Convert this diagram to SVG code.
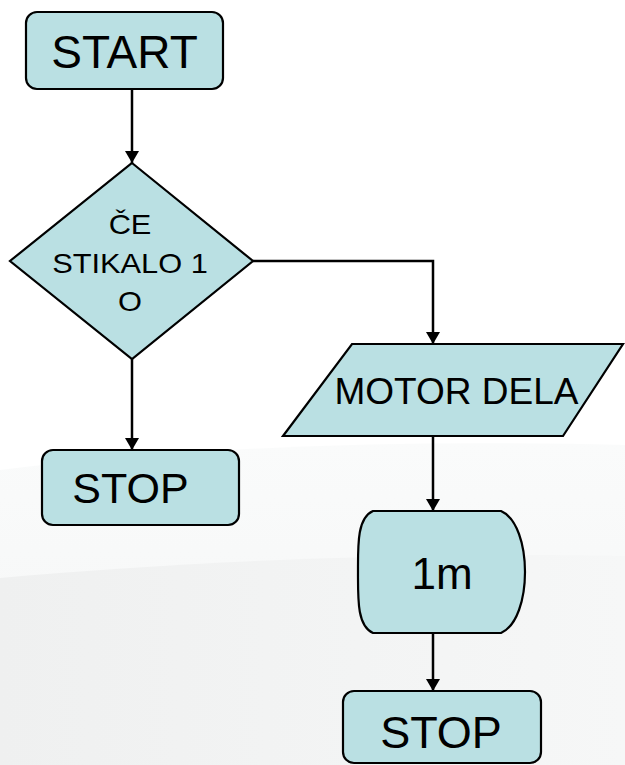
<svg xmlns="http://www.w3.org/2000/svg" width="625" height="765" viewBox="0 0 625 765">
<defs>
<style>
.node{fill:#bae0e3;stroke:#000;stroke-width:2.2}
.lbl{font-family:"Liberation Sans",Arial,sans-serif;fill:#000;text-anchor:middle}
.conn{fill:none;stroke:#000;stroke-width:2.5}
</style>
<marker id="ah" markerWidth="12" markerHeight="14" refX="12" refY="7" orient="auto" markerUnits="userSpaceOnUse">
<path d="M0,0 L12,7 L0,14 Z" fill="#000"/>
</marker>
<linearGradient id="bg1" x1="0" y1="0" x2="0" y2="1">
<stop offset="0" stop-color="#fafbfb"/>
<stop offset="1" stop-color="#f4f5f5"/>
</linearGradient>
<linearGradient id="bg2" x1="0" y1="0" x2="1" y2="0">
<stop offset="0" stop-color="#eff0f0"/>
<stop offset="1" stop-color="#f6f7f7"/>
</linearGradient>
</defs>
<rect x="0" y="0" width="625" height="765" fill="#ffffff"/>
<path d="M0,470 C200,445 420,440 625,445 L625,765 L0,765 Z" fill="url(#bg1)"/>
<path d="M0,578 C200,560 420,552 625,556 L625,765 L0,765 Z" fill="url(#bg2)"/>

<g id="connectors">
<line class="conn" x1="132" y1="89" x2="132" y2="163" marker-end="url(#ah)"/>
<line class="conn" x1="132" y1="359" x2="132" y2="450" marker-end="url(#ah)"/>
<polyline class="conn" points="253,261 433,261 433,344" marker-end="url(#ah)"/>
<line class="conn" x1="433" y1="436" x2="433" y2="511" marker-end="url(#ah)"/>
<line class="conn" x1="433" y1="633" x2="433" y2="691" marker-end="url(#ah)"/>
</g>

<g id="start">
<rect class="node" x="26" y="12" width="197" height="77" rx="11"/>
<text class="lbl" x="124.5" y="68" font-size="46">START</text>
</g>

<g id="decision">
<polygon class="node" points="132,163 253,261 132,359 10,261"/>
<g transform="translate(130,0) scale(1.14,1)">
<text class="lbl" x="0" y="234" font-size="27">ČE</text>
<text class="lbl" x="0" y="273" font-size="27">STIKALO 1</text>
<text class="lbl" x="0" y="311" font-size="27">O</text>
</g>
</g>

<g id="stop1">
<rect class="node" x="42" y="450" width="197" height="75" rx="11"/>
<text class="lbl" x="130.5" y="503" font-size="43">STOP</text>
</g>

<g id="motor">
<polygon class="node" points="352,344 623,344 563,436 283,436"/>
<text class="lbl" x="456.5" y="404" font-size="37">MOTOR DELA</text>
</g>

<g id="delay">
<path class="node" d="M373,511 L501,511 C517,518 525,545 525,572 C525,599 517,626 501,633 L373,633 C357,626 358,599 358,572 C358,545 357,518 373,511 Z"/>
<text class="lbl" x="442" y="589" font-size="44">1m</text>
</g>

<g id="stop2">
<rect class="node" x="343" y="691" width="198" height="72" rx="11"/>
<text class="lbl" x="441" y="748" font-size="45">STOP</text>
</g>
</svg>
